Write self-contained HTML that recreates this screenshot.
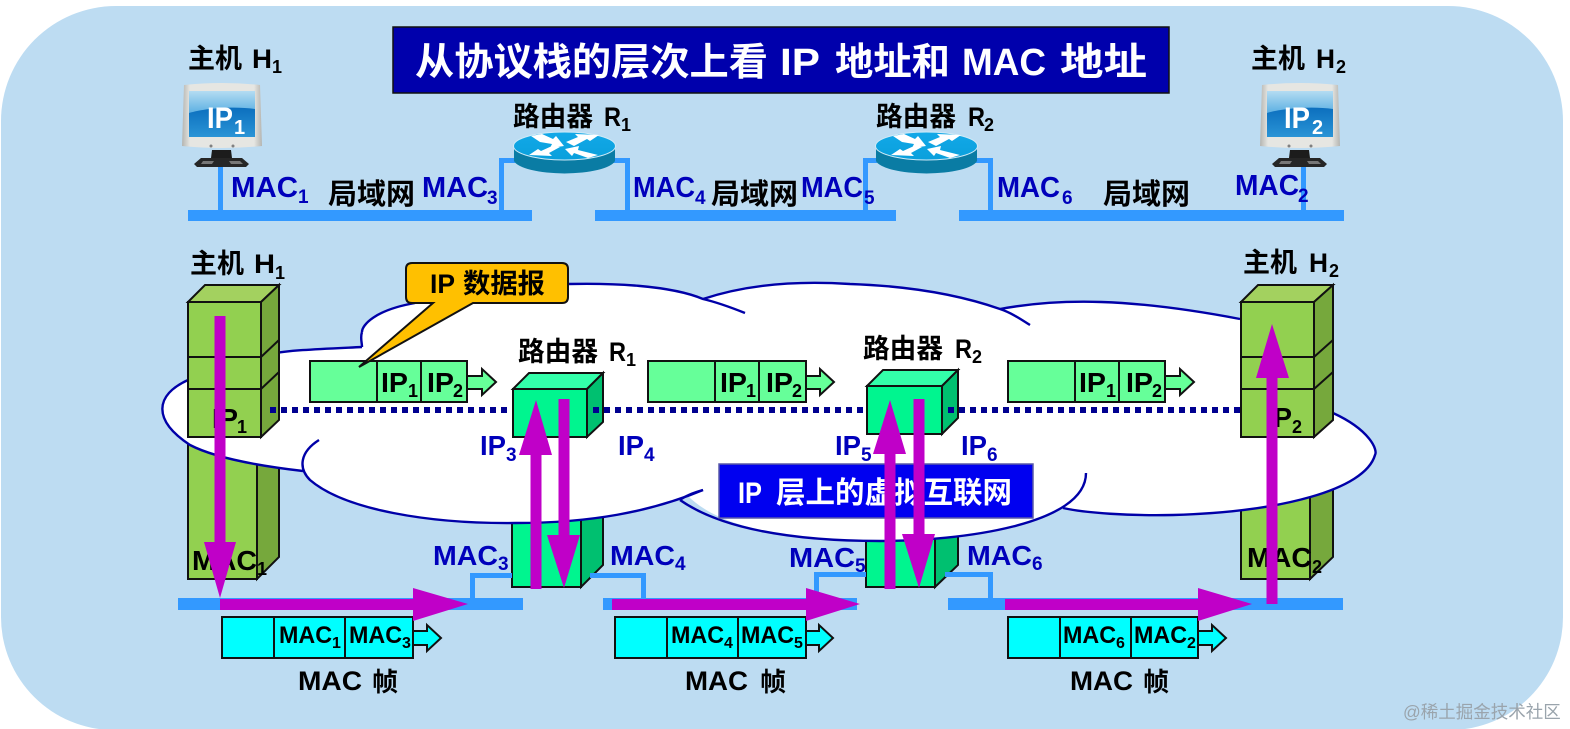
<!DOCTYPE html>
<html><head><meta charset="utf-8"><style>
html,body{margin:0;padding:0;background:#fff}
svg{display:block}
text{font-family:"Liberation Sans","Noto Sans CJK SC",sans-serif;font-weight:bold}
.b text,text.b{fill:#0000bb}
.s{stroke:#111;stroke-width:2;stroke-linejoin:miter}
</style></head><body>
<svg width="1570" height="729" viewBox="0 0 1570 729" xmlns="http://www.w3.org/2000/svg">
<defs>
<linearGradient id="scr" x1="0" y1="0" x2="0" y2="1"><stop offset="0" stop-color="#b4dcf2"/><stop offset=".5" stop-color="#58aee2"/></linearGradient>
<linearGradient id="scr2" x1="0" y1="0" x2="0" y2="1"><stop offset="0" stop-color="#0c6fbe"/><stop offset="1" stop-color="#2a94d6"/></linearGradient>
<linearGradient id="frm" x1="0" y1="0" x2="1" y2="0"><stop offset="0" stop-color="#b4b4b0"/><stop offset=".1" stop-color="#e6e6e2"/><stop offset=".9" stop-color="#e6e6e2"/><stop offset="1" stop-color="#b4b4b0"/></linearGradient>
<linearGradient id="rt" x1="0" y1="0" x2="0" y2="1"><stop offset="0" stop-color="#12a8e8"/><stop offset="1" stop-color="#0aa0dc"/></linearGradient>
<g id="mon">
<path d="M184,85 Q222,81 260,85 L262,146 Q222,150 182,146Z" fill="url(#frm)"/>
<rect x="189" y="91" width="66" height="46" fill="url(#scr)"/>
<path d="M189,113 C205,108 235,106 255,109 V137 H189Z" fill="url(#scr2)"/>
<path d="M212,150 H231 L232,158 H211Z" fill="#1c1c1c"/>
<path d="M201,158 H242 L249,164 L246,167 H197 L194,164Z" fill="#262626"/>
<path d="M203,161 H214 L212,164 H201Z M229,161 H240 L243,164 H231Z" fill="#777"/>
<circle cx="211" cy="146" r="1.5" fill="#808080"/><circle cx="233" cy="146" r="1.5" fill="#808080"/>
</g>
<g id="rtr">
<path d="M514,146 V161 A51,14.500 0 0 0 615,161 V146Z" fill="#0a7ca4"/>
<ellipse cx="564.500" cy="146" rx="51" ry="14" fill="url(#rt)" stroke="#cfeaf7" stroke-width="1"/>
<path d="M531,136 L542,134 L553,139 L556,136 L564,146 L550,148 L552,144 L540,142Z M566,142 L578,137 L575,134 L599,135 L590,141 L587,139 L574,146Z M560,147 L549,153 L552,156 L529,155 L538,149 L541,151 L552,146Z M565,149 L579,146 L578,150 L598,155 L588,158 L574,153 L572,156Z" fill="#fff"/>
</g>
</defs>
<rect width="1570" height="729" fill="#fff"/>
<path d="M116,6 H1448 A115,115 0 0 1 1563,121 V617 A113,113 0 0 1 1450,730 H114 A113,113 0 0 1 1,617 V121 A115,115 0 0 1 116,6Z" fill="#bddcf2"/>

<!-- top -->
<rect x="393" y="27" width="776" height="66" fill="#0000ac" stroke="#111" stroke-width="1.5"/>
<g fill="#fff" font-size="38">
<text x="415" y="75" textLength="353" lengthAdjust="spacingAndGlyphs" fill="#fff">从协议栈的层次上看</text>
<text x="780" y="75" textLength="40" lengthAdjust="spacingAndGlyphs" fill="#fff">IP</text>
<text x="835" y="75" textLength="115" lengthAdjust="spacingAndGlyphs" fill="#fff">地址和</text>
<text x="962" y="75" textLength="84" lengthAdjust="spacingAndGlyphs" fill="#fff">MAC</text>
<text x="1060" y="75" textLength="87" lengthAdjust="spacingAndGlyphs" fill="#fff">地址</text>
</g>
<g fill="#3399ff">
<rect x="188" y="210" width="344" height="11"/><rect x="595" y="210" width="301" height="11"/><rect x="959" y="210" width="385" height="11"/>
<rect x="218" y="165" width="5" height="46"/><rect x="1301" y="165" width="5" height="46"/>
<rect x="499" y="158" width="5" height="53"/><rect x="499" y="158" width="16" height="5"/>
<rect x="625" y="158" width="5" height="53"/><rect x="612" y="158" width="18" height="5"/>
<rect x="863" y="158" width="5" height="53"/><rect x="863" y="158" width="14" height="5"/>
<rect x="988" y="158" width="5" height="53"/><rect x="975" y="158" width="18" height="5"/>
</g>
<use href="#mon"/><use href="#mon" x="1078"/>
<use href="#rtr"/><use href="#rtr" x="362"/>
<g font-size="27">
<text x="188" y="68" textLength="54" lengthAdjust="spacingAndGlyphs">主机</text><text x="252" y="68" textLength="20" lengthAdjust="spacingAndGlyphs">H</text><text x="272" y="73" font-size="18">1</text>
<text x="1251" y="68" textLength="54" lengthAdjust="spacingAndGlyphs">主机</text><text x="1316" y="68" textLength="19" lengthAdjust="spacingAndGlyphs">H</text><text x="1336" y="73" font-size="18">2</text>
<text x="513" y="126" textLength="80" lengthAdjust="spacingAndGlyphs">路由器</text><text x="604" y="126" textLength="17" lengthAdjust="spacingAndGlyphs">R</text><text x="621" y="131" font-size="18">1</text>
<text x="876" y="126" textLength="80" lengthAdjust="spacingAndGlyphs">路由器</text><text x="968" y="126" textLength="17" lengthAdjust="spacingAndGlyphs">R</text><text x="984" y="131" font-size="18">2</text>
<text x="328" y="204" font-size="29">局域网</text><text x="711" y="204" font-size="29">局域网</text><text x="1103" y="204" font-size="29">局域网</text>
</g>
<g class="b" font-size="29">
<text x="231" y="197" textLength="67" lengthAdjust="spacingAndGlyphs">MAC</text><text x="298" y="203" font-size="19">1</text>
<text x="422" y="197" textLength="66" lengthAdjust="spacingAndGlyphs">MAC</text><text x="487" y="204" font-size="19">3</text>
<text x="633" y="197" textLength="62" lengthAdjust="spacingAndGlyphs">MAC</text><text x="695" y="204" font-size="19">4</text>
<text x="801" y="197" textLength="62" lengthAdjust="spacingAndGlyphs">MAC</text><text x="864" y="204" font-size="19">5</text>
<text x="997" y="197" textLength="63" lengthAdjust="spacingAndGlyphs">MAC</text><text x="1062" y="204" font-size="19">6</text>
<text x="1235" y="195" textLength="64" lengthAdjust="spacingAndGlyphs">MAC</text><text x="1298" y="202" font-size="19">2</text>
</g>
<g font-size="30">
<text x="207" y="128" style="fill:#fff" textLength="26" lengthAdjust="spacingAndGlyphs">IP</text><text x="234" y="134" font-size="20" style="fill:#fff">1</text>
<text x="1284" y="128" style="fill:#fff" textLength="26" lengthAdjust="spacingAndGlyphs">IP</text><text x="1312" y="134" font-size="20" style="fill:#fff">2</text>
</g>

<!-- lower stacks under cloud -->
<g class="s">
<rect x="188" y="430" width="69" height="149" fill="#92d050"/>
<path d="M257,430 H279 V557 L257,579Z" fill="#76a83c"/>
<rect x="1241" y="430" width="69" height="149" fill="#92d050"/>
<path d="M1310,430 H1333 V557 L1310,579Z" fill="#76a83c"/>
<rect x="512" y="500" width="69" height="87" fill="#00f58f"/>
<path d="M581,500 H603 V565 L581,587Z" fill="#00c070"/>
<rect x="866" y="500" width="69" height="87" fill="#00f58f"/>
<path d="M935,500 H958 V565 L935,587Z" fill="#00c070"/>
</g>

<!-- cloud fill: same curves as the outline -->
<path d="M362,347 L362,332 C362,325 375,310 415,303 L568,284 C610,283 670,285 703,299 C760,280 820,282 850,284 C910,286 960,295 1000,309 C1060,298 1130,298 1240,319 L1333,413 C1370,430 1378,450 1375,455 C1365,490 1280,512 1173,515 C1130,516 1085,513 1063,508 C1020,530 950,541 880,541 C790,541 720,528 688,496 C640,514 590,523 516,523 C430,524 345,510 310,480 L303,471 C260,466 215,458 190,445 C152,420 155,395 188,380 L270,354 C290,350 320,349 362,347Z" fill="#fff"/>
<g fill="none" stroke="#0000a8" stroke-width="2.4">
<path d="M362,347 C320,349 290,350 270,354 M188,380 C155,395 152,420 190,445 C215,458 260,466 303,471"/>
<path d="M362,332 C362,325 375,310 415,303 M362,332 C360,338 362,342 362,347"/>
<path d="M568,284 C610,283 670,285 703,299 C720,303 735,309 745,313"/>
<path d="M703,299 C760,280 820,282 850,284 C910,286 960,295 1000,309 C1012,313 1022,320 1030,325"/>
<path d="M1000,309 C1060,298 1130,298 1240,319"/>
<path d="M1333,413 C1370,430 1378,450 1375,455 C1365,490 1280,512 1173,515 C1130,516 1085,513 1063,508"/>
<path d="M319,440 C300,452 298,468 310,480 C345,510 430,524 516,523 C590,523 650,512 703,490"/>
<path d="M680,500 C720,528 790,541 880,541 C960,541 1086,525 1086,473"/>
</g>
<path d="M680,500 C684,497 692,493 703,490" fill="none" stroke="#0000a8" stroke-width="2.4"/>

<!-- upper stacks -->
<g class="s">
<rect x="188" y="302" width="73" height="135" fill="#92d050"/>
<path d="M188,302 L205,285 H279 L261,302Z" fill="#a3d15f"/>
<path d="M261,302 L279,285 V420 L261,437Z" fill="#76a83c"/>
<path d="M188,357 H261 L279,340 M188,389 H261 L279,372" fill="none"/>
<rect x="1241" y="302" width="73" height="135" fill="#92d050"/>
<path d="M1241,302 L1258,285 H1333 L1314,302Z" fill="#a3d15f"/>
<path d="M1314,302 L1333,285 V420 L1314,437Z" fill="#76a83c"/>
<path d="M1241,357 H1314 L1333,340 M1241,389 H1314 L1333,372" fill="none"/>
<rect x="513" y="389" width="74" height="48" fill="#00f58f"/>
<path d="M513,389 L529,373 H603 L587,389Z" fill="#33ffaa"/>
<path d="M587,389 L603,373 V422 L587,437Z" fill="#00c070"/>
<rect x="867" y="386" width="75" height="48" fill="#00f58f"/>
<path d="M867,386 L883,370 H958 L942,386Z" fill="#33ffaa"/>
<path d="M942,386 L958,370 V418 L942,434Z" fill="#00c070"/>
</g>
<path d="M270,410 H511 M593,410 H865 M948,410 H1240" stroke="#000090" stroke-width="6" stroke-dasharray="6 5" fill="none"/>

<!-- IP packets -->
<g class="s" fill="#66ff99">
<rect x="310" y="361" width="157" height="41"/><path d="M377,361 V402 M421,361 V402" fill="none"/>
<path d="M467,376 H482 V369 L496,382 L482,395 V389 H467Z"/>
<rect x="648" y="361" width="158" height="41"/><path d="M715,361 V402 M759,361 V402" fill="none"/>
<path d="M806,376 H820 V369 L834,382 L820,395 V389 H806Z"/>
<rect x="1008" y="361" width="157" height="41"/><path d="M1075,361 V402 M1119,361 V402" fill="none"/>
<path d="M1165,376 H1180 V369 L1194,382 L1180,395 V389 H1165Z"/>
</g>
<!-- callout -->
<path d="M412,263 H562 Q568,263 568,269 V297 Q568,303 562,303 H473 L359,367 L433,303 H412 Q406,303 406,297 V269 Q406,263 412,263Z" fill="#ffc000" stroke="#111" stroke-width="2"/>
<g font-size="27">
<text x="430" y="293" textLength="25" lengthAdjust="spacingAndGlyphs">IP</text><text x="463" y="293" textLength="82" lengthAdjust="spacingAndGlyphs">数据报</text>
<text x="190" y="273" textLength="54" lengthAdjust="spacingAndGlyphs">主机</text><text x="254" y="273" textLength="21" lengthAdjust="spacingAndGlyphs">H</text><text x="275" y="279" font-size="18">1</text>
<text x="1243" y="272" textLength="54" lengthAdjust="spacingAndGlyphs">主机</text><text x="1309" y="272" textLength="19" lengthAdjust="spacingAndGlyphs">H</text><text x="1329" y="277" font-size="18">2</text>
<text x="518" y="361" textLength="80" lengthAdjust="spacingAndGlyphs">路由器</text><text x="609" y="361" textLength="17" lengthAdjust="spacingAndGlyphs">R</text><text x="626" y="366" font-size="18">1</text>
<text x="863" y="358" textLength="80" lengthAdjust="spacingAndGlyphs">路由器</text><text x="955" y="358" textLength="17" lengthAdjust="spacingAndGlyphs">R</text><text x="972" y="363" font-size="18">2</text>
</g>
<g font-size="28">
<text x="381" y="392" textLength="27" lengthAdjust="spacingAndGlyphs">IP</text><text x="408" y="397" font-size="18">1</text>
<text x="427" y="392" textLength="27" lengthAdjust="spacingAndGlyphs">IP</text><text x="453" y="397" font-size="18">2</text>
<text x="720" y="392" textLength="27" lengthAdjust="spacingAndGlyphs">IP</text><text x="746" y="397" font-size="18">1</text>
<text x="766" y="392" textLength="27" lengthAdjust="spacingAndGlyphs">IP</text><text x="792" y="397" font-size="18">2</text>
<text x="1079" y="392" textLength="27" lengthAdjust="spacingAndGlyphs">IP</text><text x="1106" y="397" font-size="18">1</text>
<text x="1126" y="392" textLength="27" lengthAdjust="spacingAndGlyphs">IP</text><text x="1152" y="397" font-size="18">2</text>
<text x="212" y="428" textLength="26" lengthAdjust="spacingAndGlyphs">IP</text><text x="237" y="433" font-size="18">1</text>
<text x="1266" y="427" textLength="26" lengthAdjust="spacingAndGlyphs">IP</text><text x="1292" y="433" font-size="18">2</text>
<text x="192" y="570" textLength="65" lengthAdjust="spacingAndGlyphs">MAC</text><text x="257" y="575" font-size="18">1</text>
<text x="1247" y="567" textLength="65" lengthAdjust="spacingAndGlyphs">MAC</text><text x="1312" y="573" font-size="18">2</text>
</g>
<g class="b" font-size="28">
<text x="480" y="455" textLength="26" lengthAdjust="spacingAndGlyphs">IP</text><text x="506" y="461" font-size="19">3</text>
<text x="618" y="455" textLength="26" lengthAdjust="spacingAndGlyphs">IP</text><text x="644" y="461" font-size="19">4</text>
<text x="835" y="455" textLength="26" lengthAdjust="spacingAndGlyphs">IP</text><text x="861" y="461" font-size="19">5</text>
<text x="961" y="455" textLength="26" lengthAdjust="spacingAndGlyphs">IP</text><text x="987" y="461" font-size="19">6</text>
<text x="433" y="565" textLength="65" lengthAdjust="spacingAndGlyphs">MAC</text><text x="498" y="570" font-size="19">3</text>
<text x="610" y="565" textLength="65" lengthAdjust="spacingAndGlyphs">MAC</text><text x="675" y="570" font-size="19">4</text>
<text x="789" y="567" textLength="66" lengthAdjust="spacingAndGlyphs">MAC</text><text x="855" y="572" font-size="19">5</text>
<text x="967" y="565" textLength="65" lengthAdjust="spacingAndGlyphs">MAC</text><text x="1032" y="570" font-size="19">6</text>
</g>

<!-- blue box -->
<rect x="719" y="464" width="314" height="54" fill="#0000f0" stroke="#5a5aa8" stroke-width="1.5"/>
<g font-size="30">
<text x="738" y="503" textLength="24" lengthAdjust="spacingAndGlyphs" style="fill:#fff">IP</text>
<text x="776" y="503" textLength="236" lengthAdjust="spacingAndGlyphs" style="fill:#fff">层上的虚拟互联网</text>
</g>

<!-- lower bars -->
<g fill="#3399ff">
<rect x="470" y="573" width="5" height="26"/><rect x="470" y="573" width="42" height="5"/>
<rect x="590" y="573" width="56" height="5"/><rect x="641" y="573" width="5" height="26"/>
<rect x="814" y="572" width="5" height="27"/><rect x="814" y="572" width="52" height="5"/>
<rect x="945" y="572" width="48" height="5"/><rect x="988" y="572" width="5" height="27"/>
<rect x="178" y="598" width="345" height="12"/><rect x="603" y="598" width="254" height="12"/><rect x="948" y="598" width="395" height="12"/>
</g>

<!-- frames -->
<g class="s" fill="#00ffff">
<rect x="222" y="617" width="191" height="41"/><path d="M274,617 V658 M345,617 V658" fill="none"/>
<path d="M413,631 H427 V625 L441,638 L427,651 V645 H413Z"/>
<rect x="615" y="617" width="191" height="41"/><path d="M667,617 V658 M738,617 V658" fill="none"/>
<path d="M806,631 H819 V625 L833,638 L819,651 V645 H806Z"/>
<rect x="1008" y="617" width="190" height="41"/><path d="M1060,617 V658 M1131,617 V658" fill="none"/>
<path d="M1198,631 H1212 V625 L1226,638 L1212,651 V645 H1198Z"/>
</g>
<g font-size="24">
<text x="279" y="643" textLength="53" lengthAdjust="spacingAndGlyphs">MAC</text><text x="332" y="648" font-size="16">1</text>
<text x="349" y="643" textLength="53" lengthAdjust="spacingAndGlyphs">MAC</text><text x="402" y="648" font-size="16">3</text>
<text x="671" y="643" textLength="53" lengthAdjust="spacingAndGlyphs">MAC</text><text x="724" y="648" font-size="16">4</text>
<text x="741" y="643" textLength="53" lengthAdjust="spacingAndGlyphs">MAC</text><text x="794" y="648" font-size="16">5</text>
<text x="1063" y="643" textLength="53" lengthAdjust="spacingAndGlyphs">MAC</text><text x="1116" y="648" font-size="16">6</text>
<text x="1134" y="643" textLength="53" lengthAdjust="spacingAndGlyphs">MAC</text><text x="1187" y="648" font-size="16">2</text>
</g>
<g font-size="27">
<text x="298" y="690" textLength="64" lengthAdjust="spacingAndGlyphs">MAC</text><text x="372" y="691" font-size="26">帧</text>
<text x="685" y="690" textLength="63" lengthAdjust="spacingAndGlyphs">MAC</text><text x="760" y="691" font-size="26">帧</text>
<text x="1070" y="690" textLength="63" lengthAdjust="spacingAndGlyphs">MAC</text><text x="1143" y="691" font-size="26">帧</text>
</g>

<!-- purple arrows -->
<g fill="#c000c8">
<path d="M214.500,316 H225.500 V542 H236 L220,598 L204,542 H214.500Z"/>
<path d="M220,599 H413 V588 L468,604 L413,621 V610 H220Z"/>
<path d="M612,599 H806 V588 L860,604 L806,621 V610 H612Z"/>
<path d="M1005,599 H1198 V588 L1252,604 L1198,621 V610 H1005Z"/>
<path d="M530.500,589 V455 H519 L536,400 L552,455 H541.500 V589Z"/>
<path d="M558.500,399 H569.500 V535 H580 L564,588 L547,535 H558.500Z"/>
<path d="M884.500,589 V454 H873 L890,400 L906,454 H895.500 V589Z"/>
<path d="M913.500,399 H924.500 V534 H935 L919,588 L902,534 H913.500Z"/>
<path d="M1266.500,604 V378 H1256 L1272,324 L1289,378 H1277.500 V604Z"/>
</g>
<text x="1403" y="718" font-size="17.500" style="font-weight:normal;fill:#9aa4ac">@稀土掘金技术社区</text>
</svg>
</body></html>
